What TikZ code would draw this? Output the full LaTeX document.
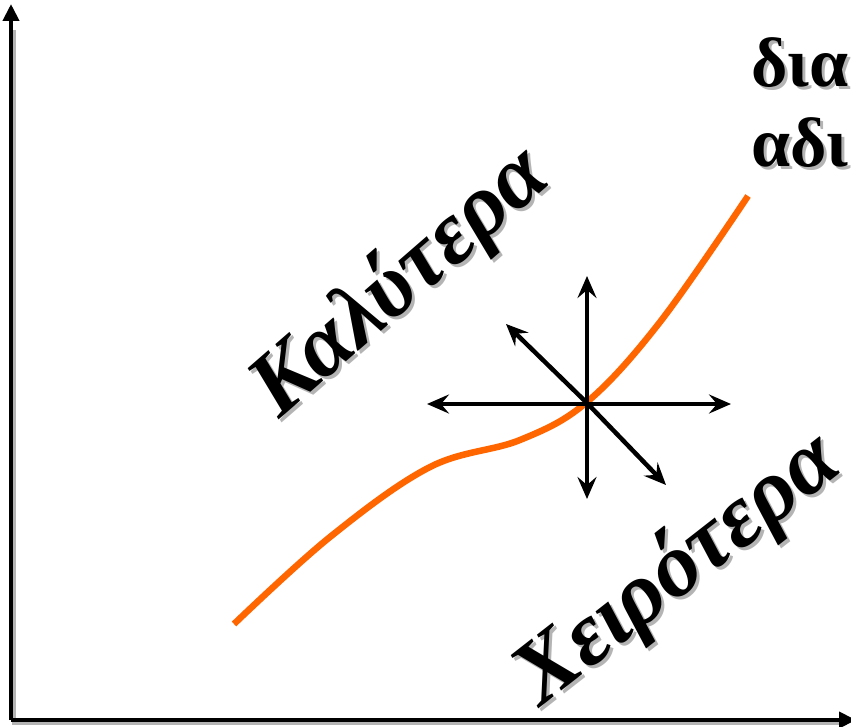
\documentclass[tikz,border=0pt]{standalone}
\usepackage{fontspec}
\setmainfont{Liberation Serif}
\usetikzlibrary{arrows.meta}
\definecolor{curveorange}{HTML}{FF6600}
\definecolor{shadowgray}{HTML}{B4B4B4}
\tikzset{
  axisline/.style={line width=4pt,-{Triangle[length=17pt,width=16pt]}},
  axisshadow/.style={line width=4pt,shadowgray},
  dirarrow/.style={line width=4.5pt,{Stealth[length=22pt,width=19pt,inset=8pt]}-{Stealth[length=22pt,width=19pt,inset=8pt]}},
  onearrow/.style={line width=4.5pt,-{Stealth[length=22pt,width=19pt,inset=8pt]}},
  bigtext/.style={font=\fontsize{90}{90}\selectfont\bfseries\itshape,inner sep=0pt},
  cornertext/.style={font=\fontsize{70}{80}\selectfont\bfseries,inner sep=0pt,align=left,anchor=north west},
}
\begin{document}
\begin{tikzpicture}[x=1pt,y=-1pt]
\useasboundingbox (0,0) rectangle (851,727);
% axes
\coordinate (o) at (11,720);
\coordinate (ytop) at (11,4);
\coordinate (xend) at (856,720);
\draw[axisshadow] (14,30) -- (14,723) -- (840,723);
\draw[axisline] (o) -- (ytop);
\draw[axisline] (o) -- (xend);
% curve
\draw[curveorange,line width=6.5pt] plot[smooth,tension=0.6] coordinates {(234,624) (330,537) (430,467) (520,440) (587,402) (660,322) (748,196)};
% star
\coordinate (c) at (587,403);
\coordinate (up) at (587,276);
\coordinate (down) at (587,499);
\coordinate (left) at (427,404);
\coordinate (right) at (731,404);
\coordinate (ul) at (506,324);
\coordinate (dr) at (666,485);
\draw[dirarrow] (up) -- (down);
\draw[dirarrow] (left) -- (right);
\draw[onearrow] (c) -- (ul);
\draw[onearrow] (c) -- (dr);
% texts
\node[bigtext,rotate=41,shadowgray] at (404,286) {Καλύτερα};
\node[bigtext,rotate=41] (better) at (401,283) {Καλύτερα};
\node[bigtext,rotate=38,shadowgray] at (681,573) {Χειρότερα};
\node[bigtext,rotate=38] (worse) at (678,570) {Χειρότερα};
\node[cornertext,shadowgray] at (754,40) {δια\\αδι};
\node[cornertext] (corner) at (751,37) {δια\\αδι};
\end{tikzpicture}
\end{document}
